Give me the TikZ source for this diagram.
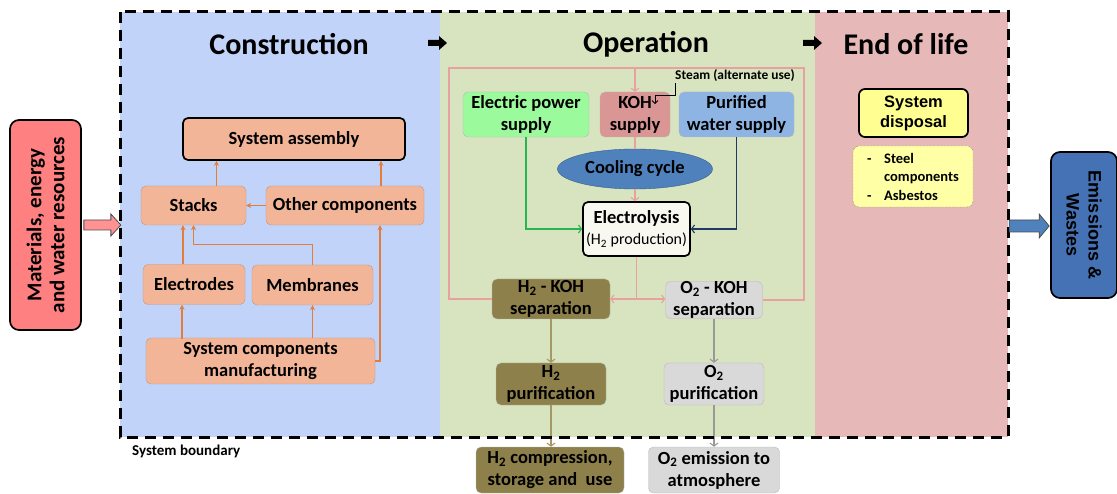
\documentclass[tikz,border=0pt]{standalone}
\usepackage{fontspec}
\setmainfont{Carlito}
\newfontfamily\arialfont{Liberation Sans}
\usetikzlibrary{arrows.meta,shapes.geometric}
\definecolor{bgblue}{RGB}{193,211,249}
\definecolor{bggreen}{RGB}{216,228,191}
\definecolor{bgpink}{RGB}{230,185,184}
\definecolor{salmon}{RGB}{242,181,152}
\definecolor{salmonline}{RGB}{190,150,135}
\definecolor{arrorange}{RGB}{228,124,58}
\definecolor{pinkline}{RGB}{232,160,160}
\definecolor{powergreen}{RGB}{155,250,155}
\definecolor{kohred}{RGB}{217,150,148}
\definecolor{waterblue}{RGB}{142,180,227}
\definecolor{coolblue}{RGB}{79,129,189}
\definecolor{coolline}{RGB}{56,93,138}
\definecolor{ivory}{RGB}{248,248,240}
\definecolor{olive}{RGB}{141,128,74}
\definecolor{oliveline}{RGB}{165,152,100}
\definecolor{lightgray}{RGB}{217,217,217}
\definecolor{greenline}{RGB}{40,180,80}
\definecolor{navyline}{RGB}{31,56,100}
\definecolor{dispyellow}{RGB}{255,255,145}
\definecolor{listyellow}{RGB}{255,255,165}
\definecolor{emsblue}{RGB}{68,114,180}
\definecolor{matred}{RGB}{255,128,128}
\newcommand{\htwo}{H\textsubscript{2}}
\newcommand{\otwo}{O\textsubscript{2}}
\tikzset{
  boxtext/.style={font=\bfseries\fontsize{18.5}{22}\selectfont, align=center, inner sep=0pt},
  title/.style={font=\bfseries\fontsize{30}{34}\selectfont},
  cbox/.style={boxtext, draw=salmonline, fill=salmon, rounded corners=5pt},
  obox/.style={boxtext, draw=gray!55, rounded corners=5pt},
  keybox/.style={draw=black, line width=1.7pt},
  boundary/.style={draw=black, line width=3pt, dash pattern=on 11pt off 7pt},
  oarr/.style={draw=arrorange, line width=1.1pt, -{Stealth[length=5pt,width=5pt]}},
  parr/.style={draw=pinkline, line width=1.1pt, -{Straight Barb[length=3pt,width=8pt]}},
  pline/.style={draw=pinkline, line width=1.1pt},
  blockarr/.style={draw=black!70, line width=0.8pt}
}
\begin{document}
\begin{tikzpicture}[x=1pt,y=-1pt]
\useasboundingbox (0,0) rectangle (1117,494);
% life cycle phases
\fill[bgblue] (120,12) rectangle (440,437);
\fill[bggreen] (440,12) rectangle (815,437);
\fill[bgpink] (815,12) rectangle (1008,437);
\node[title] (tcon) at (289,44) {Construction};
\node[title] (top) at (646,44) {Operation};
\node[title] (teol) at (906,44) {End of life};
\fill (428,40) -- (439,40) -- (439,36) -- (447,43) -- (439,50) -- (439,46) -- (428,46) -- cycle;
\fill (803,40) -- (814,40) -- (814,36) -- (822,43) -- (814,50) -- (814,46) -- (803,46) -- cycle;

% construction
\node[cbox, keybox, minimum width=222pt, minimum height=42pt] (sa) at (294,139) {System assembly};
\node[cbox, minimum width=105pt, minimum height=39pt] (stacks) at (193.5,205.5) {Stacks};
\node[cbox, minimum width=158pt, minimum height=39pt] (oth) at (345,205.5) {Other components};
\node[cbox, minimum width=102pt, minimum height=40pt] (electrodes) at (194,284.5) {Electrodes};
\node[cbox, minimum width=121pt, minimum height=40pt] (mem) at (312.5,285) {Membranes};
\node[cbox, minimum width=229pt, minimum height=46pt] (scm) at (260.5,361) {System components\\manufacturing};
\draw[oarr] ([xshift=23pt]stacks.north) coordinate (c1) -- (c1 |- sa.south);
\draw[oarr] ([xshift=36pt]oth.north) coordinate (c2) -- (c2 |- sa.south);
\draw[oarr] (oth.west) -- (stacks.east);
\draw[oarr] ([xshift=-11pt]electrodes.north) coordinate (c3) -- (c3 |- stacks.south);
\draw[oarr] (mem.north) -- ++(0,-20) -| (stacks.south);
\draw[oarr] ([xshift=-12pt]electrodes.south) coordinate (c4) ++(0,34) -- (c4);
\draw[oarr] (mem.south |- scm.north) -- (mem.south);
\draw[oarr] (scm.east) -| ([xshift=35pt]oth.south);

% operation
\node[obox, fill=powergreen, minimum width=126pt, minimum height=45pt] (eps) at (526,114.5) {Electric power\\supply};
\node[obox, fill=kohred, minimum width=70pt, minimum height=45pt] (koh) at (635,114.5) {KOH\\supply};
\node[obox, fill=waterblue, minimum width=115pt, minimum height=45pt] (pws) at (736.5,114.5) {Purified\\water supply};
\node[boxtext, ellipse, draw=coolline, fill=coolblue, minimum width=155pt, minimum height=40pt] (cool) at (635,169) {Cooling cycle};
\node[obox, keybox, fill=ivory, minimum width=107pt, minimum height=54pt] (elec) at (636.5,229)
  {Electrolysis\\[-1pt]{\mdseries\fontsize{16}{18}\selectfont (\htwo\ production)}};
\node[font=\bfseries\fontsize{13.4}{15}\selectfont, inner sep=1pt] (steam) at (735,76) {Steam (alternate use)};
\draw[line width=0.9pt, -{Straight Barb[length=3pt,width=6pt]}] ([xshift=1pt]steam.south west) -- ++(0,12) -- ++(-20,0) -- ++(0,9);
\node[obox, fill=olive, minimum width=118pt, minimum height=40pt] (h2koh) at (551,299) {\htwo\ - KOH\\separation};
\node[obox, fill=lightgray, minimum width=97pt, minimum height=36pt] (o2koh) at (714,300) {\otwo\ - KOH\\separation};
\node[obox, fill=olive, minimum width=110pt, minimum height=42pt] (h2pur) at (551,384) {\htwo\\purification};
\node[obox, fill=lightgray, minimum width=100pt, minimum height=42pt] (o2pur) at (714,384) {\otwo\\purification};
\node[obox, fill=olive, minimum width=148pt, minimum height=46pt] (h2use) at (550,470) {\htwo\ compression,\\storage and\ \ use};
\node[obox, fill=lightgray, minimum width=131pt, minimum height=46pt] (o2atm) at (714,470) {\otwo\ emission to\\atmosphere};
% KOH loop
\draw[pline] (h2koh.west) -| (449,68) -- (804,68) |- (o2koh.east);
\draw[parr] (koh.north |- 0,68) -- (koh.north);
\draw[pline] (koh.south) -- (cool.north);
\draw[parr] (cool.south) -- (cool.south |- elec.north);
\draw[pline] (elec.south) -- (elec.south |- h2koh.east) coordinate (split);
\draw[parr] (split) -- (h2koh.east);
\draw[parr] (split) -- (split -| o2koh.west);
\draw[draw=greenline, line width=1.1pt, -{Straight Barb[length=3pt,width=8pt]}] (eps.south) |- (elec.west);
\draw[draw=navyline, line width=1.1pt, -{Straight Barb[length=3pt,width=8pt]}] (pws.south) |- (elec.east);
\draw[draw=oliveline, line width=1.1pt, -{Straight Barb[length=3pt,width=8pt]}] (h2koh.south) -- (h2pur.north);
\draw[draw=oliveline, line width=1.1pt, -{Straight Barb[length=3pt,width=8pt]}] (h2pur.south) -- (h2use.north -| h2pur.south);
\draw[draw=gray!80, line width=1.1pt, -{Straight Barb[length=3pt,width=8pt]}] (o2koh.south) -- (o2pur.north);
\draw[draw=gray!80, line width=1.1pt, -{Straight Barb[length=3pt,width=8pt]}] (o2pur.south) -- (o2atm.north);

% end of life
\node[keybox, fill=dispyellow, rounded corners=6pt, inner sep=0pt, align=center,
  font=\arialfont\bfseries\fontsize{16.5}{20}\selectfont, minimum width=109pt, minimum height=48pt] (disp) at (913.5,113) {System\\disposal};
\node[draw=black!70, densely dotted, fill=listyellow, rounded corners=6pt, inner sep=0pt, align=left,
  font=\bfseries\fontsize{14.5}{18.5}\selectfont, minimum width=120pt, minimum height=61pt] (waste) at (913,176.5)
  {\makebox[17pt][l]{-}Steel\\\makebox[17pt][l]{}components\\\makebox[17pt][l]{-}Asbestos};

% system boundary
\draw[boundary] (120,12) rectangle (1008,437);
\node[font=\bfseries\fontsize{15}{17}\selectfont, anchor=west, inner sep=0pt] (sblabel) at (132,451) {System boundary};

% inputs and outputs
\node[keybox, fill=matred, rounded corners=9pt, rotate=90, inner sep=0pt, align=center,
  font=\bfseries\fontsize{21}{23}\selectfont, minimum width=210pt, minimum height=71pt] (mat) at (45.5,225) {Materials, energy\\and water resources};
\node[keybox, fill=emsblue, rounded corners=9pt, rotate=-90, inner sep=0pt, align=center,
  font=\arialfont\bfseries\fontsize{18}{22}\selectfont, minimum width=146pt, minimum height=66pt] (ems) at (1084,225) {Emissions \&\\Wastes};
\draw[blockarr, fill=matred!85] (mat.south) ++(2,-5) -- ++(27,0) -- ++(0,-6) -- ++(10,11) -- ++(-10,11) -- ++(0,-6) -- ++(-27,0) -- cycle;
\draw[blockarr, fill=coolblue] (ems.south) ++(-1,1) -- ++(-10,-12) -- ++(0,6) -- ++(-30,0) -- ++(0,12) -- ++(30,0) -- ++(0,6) -- cycle;
\end{tikzpicture}
\end{document}
